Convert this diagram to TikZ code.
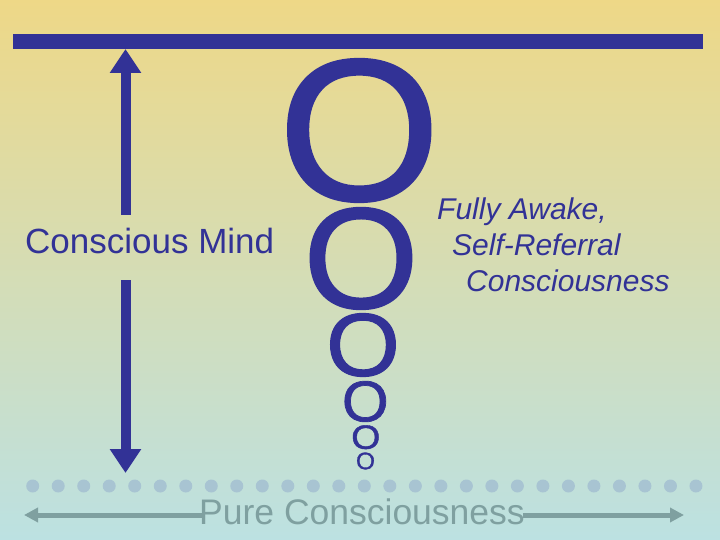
\documentclass[tikz,border=0pt]{standalone}
\usepackage{fontspec}
\usepackage{graphicx}
\setmainfont{Liberation Sans}
\newfontfamily\ofont[FakeBold=1.2]{Liberation Sans}
\usetikzlibrary{arrows.meta}
\definecolor{navy}{RGB}{50,50,150}
\definecolor{bgtop}{RGB}{238,216,135}
\definecolor{bgmid}{RGB}{214,220,182}
\definecolor{bgbot}{RGB}{188,225,226}
\definecolor{dotc}{RGB}{168,196,210}
\definecolor{teal}{RGB}{127,160,160}
\newcommand{\sqO}[1]{\scalebox{1}[#1]{O}}
\begin{document}
\begin{tikzpicture}[x=1pt,y=-1pt,
  varrow/.style={draw=navy,fill=navy,line width=10pt,-{Triangle[length=24pt,width=30pt]}},
  harrow/.style={draw=teal,fill=teal,line width=5pt,-{Triangle[length=14pt,width=14pt]}},
  lbl/.style={font=\fontsize{35}{42}\selectfont,text=navy,inner sep=0pt},
  itl/.style={font=\fontsize{30}{36}\selectfont\itshape,text=navy,inner sep=0pt,anchor=base west},
  pcl/.style={font=\fontsize{35.5}{42}\selectfont,text=teal,inner sep=0pt},
  oglyph/.style={font=\ofont\fontsize{#1}{#1}\selectfont,text=navy,inner sep=0pt,outer sep=0pt}]
\useasboundingbox (0,0) rectangle (720,540);
\shade[top color=bgtop,middle color=bgmid,bottom color=bgbot] (0,0) rectangle (720,540);
% top bar
\coordinate (bl) at (13,41.5);
\coordinate (br) at (703,41.5);
\draw[navy,line width=15pt] (bl) -- (br);
% conscious mind arrow
\node[lbl,anchor=base west] (cm) at (25,253) {Conscious Mind};
\coordinate (tipU) at (125.5,49);
\coordinate (tipD) at (125.5,473);
\coordinate (sU) at (125.5,215);
\coordinate (sD) at (125.5,280);
\draw[varrow] (sU) -- (tipU);
\draw[varrow] (sD) -- (tipD);
% letter O's
\node[oglyph=208] (o1) at (359.3,130.5) {\sqO{0.97}};
\node[oglyph=148] (o2) at (361,258.5) {\sqO{0.97}};
\node[oglyph=95] (o3) at (363,345) {\sqO{0.94}};
\node[oglyph=60] (o4) at (365.3,401.5) {\sqO{0.96}};
\node[oglyph=37.5] (o5) at (365.8,437.2) {\sqO{0.9}};
\node[oglyph=24.5] (o6) at (365.5,461) {\sqO{0.98}};
% right text
\node[itl] (fa1) at (437,219) {Fully Awake,};
\node[itl] (fa2) at (452,255) {Self-Referral};
\node[itl] (fa3) at (466,291) {Consciousness};
% dots
\foreach \i in {0,...,26} \fill[dotc] ({32.7+25.51*\i},486) circle[radius=6.5pt];
% pure consciousness
\node[pcl,anchor=base] (pc) at (362,524) {Pure Consciousness};
\coordinate (pl) at (24,515);
\coordinate (pr) at (684,515);
\draw[harrow] ([xshift=3pt]pc.west |- pl) -- (pl);
\draw[harrow] ([xshift=-2pt]pc.east |- pr) -- (pr);
\end{tikzpicture}
\end{document}
